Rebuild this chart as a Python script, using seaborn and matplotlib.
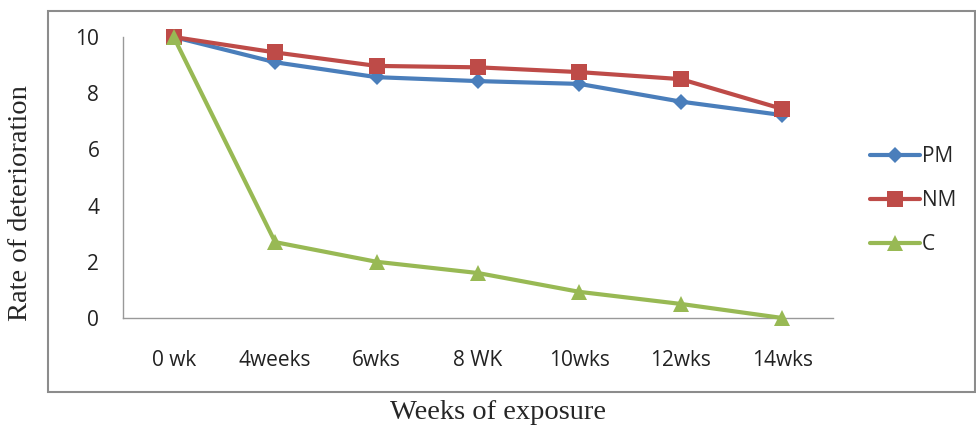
import pandas as pd
import matplotlib.pyplot as plt
import seaborn as sns
from matplotlib.patches import Rectangle

# values
weeks = ['0 wk', '4weeks', '6wks', '8 WK', '10wks', '12wks', '14wks']
pm = [10.0, 9.1, 8.57, 8.43, 8.33, 7.7, 7.22]
nm = [10.0, 9.45, 8.97, 8.92, 8.75, 8.5, 7.44]
c = [10.0, 2.7, 2.0, 1.6, 0.93, 0.5, 0.0]
series_names = ['PM', 'NM', 'C']

colors = {'PM': '#4A7EBB', 'NM': '#BE4B48', 'C': '#98B954'}
markers = {'PM': 'D', 'NM': 's', 'C': '^'}


def make_long_df():
    """long form table for seaborn"""
    rows = []
    for name, vals in zip(series_names, [pm, nm, c]):
        for i, v in enumerate(vals):
            rows.append({'pos': i, 'week': weeks[i], 'series': name, 'value': v})
    return pd.DataFrame(rows)


df = make_long_df()

sns.set_style('white')
plt.rcParams['font.family'] = ['Open Sans', 'DejaVu Sans']

fig = plt.figure(figsize=(9.76, 4.32), dpi=100)
ax = fig.add_axes([0.126, 0.2639, 0.7275, 0.6505])

# outer chart border
fig.patches.append(Rectangle((0.049, 0.0926), 0.95, 0.882, transform=fig.transFigure,
                             fill=False, edgecolor='#8c8c8c', linewidth=1.5, zorder=0))

sns.lineplot(data=df, x='pos', y='value', hue='series', style='series',
             hue_order=series_names, style_order=series_names,
             palette=colors, markers=markers, dashes=False, sort=False,
             linewidth=3, markersize=11, markeredgewidth=0, ax=ax, legend=False)

# marker sizes differ a bit in the original, and markers sit on the axis unclipped
for line, ms in zip(ax.lines, [8, 11, 11]):
    line.set_markersize(ms)
    line.set_clip_on(False)

ax.set_xlim(-0.5, 6.5)
ax.set_ylim(0, 10)
ax.set_yticks([0, 2, 4, 6, 8, 10])
ax.set_xticks(range(len(weeks)))
ax.set_xticklabels(weeks)
ax.set_xticks([i - 0.5 for i in range(len(weeks) + 1)], minor=True)
ax.tick_params(axis='x', which='major', length=0, pad=23, labelsize=15, labelcolor='#222222')
ax.tick_params(axis='x', which='minor', length=8, width=1, color='#999999', direction='out')
ax.tick_params(axis='y', length=5, width=1, color='#999999', direction='out', pad=12,
               labelsize=15, labelcolor='#222222')

for side in ['top', 'right']:
    ax.spines[side].set_visible(False)
for side in ['left', 'bottom']:
    ax.spines[side].set_color('#999999')
    ax.spines[side].set_linewidth(1)
    ax.spines[side].set_zorder(1)

ax.set_xlabel('')
ax.set_ylabel('')
fig.text(0.510, 0.045, 'Weeks of exposure', ha='center', va='center',
         fontsize=20.5, family=['Liberation Serif', 'DejaVu Serif'])
fig.text(0.021, 0.53, 'Rate of deterioration', ha='center', va='center', rotation=90,
         fontsize=20.5, family=['Liberation Serif', 'DejaVu Serif'])

handles = ax.lines[:3]
leg = fig.legend(handles, series_names, loc='center left', bbox_to_anchor=(0.872, 0.535),
                 frameon=False, fontsize=15, handlelength=2.4, labelspacing=1.1,
                 handletextpad=0.1)

fig.savefig('out.png', dpi=100)
